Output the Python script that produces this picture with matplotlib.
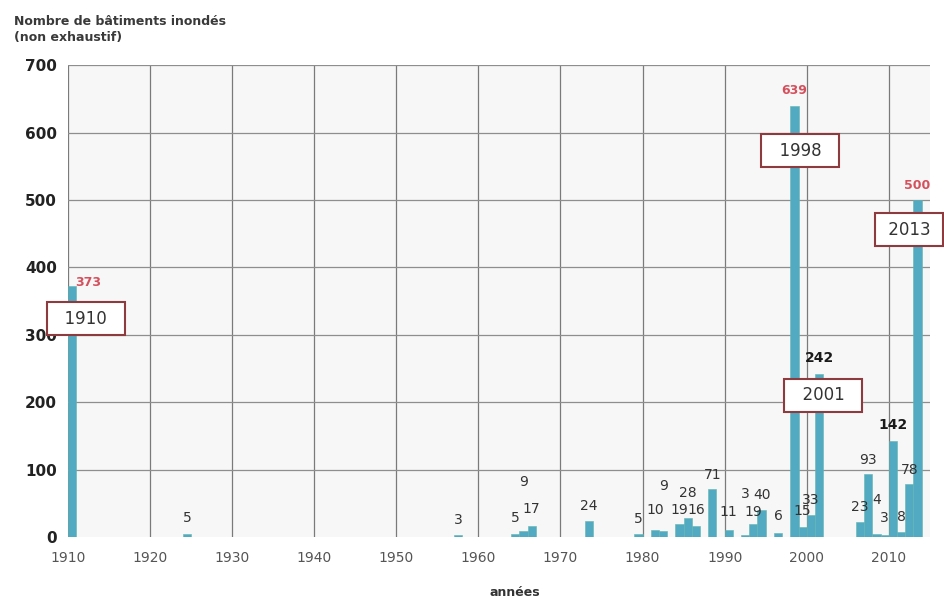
import matplotlib.pyplot as plt

# données
years = [1910, 1924, 1957, 1964, 1965, 1966, 1973, 1979, 1981, 1982, 1984,
         1985, 1986, 1988, 1990, 1992, 1993, 1994, 1996, 1998, 1999, 2000,
         2001, 2006, 2007, 2008, 2009, 2010, 2011, 2012, 2013]
values = [373, 5, 3, 5, 9, 17, 24, 5, 10, 9, 19,
          28, 16, 71, 11, 3, 19, 40, 6, 639, 15, 33,
          242, 23, 93, 4, 3, 142, 8, 78, 500]
# hauteur des étiquettes (unités de l'axe y)
label_y = [378, 28, 25, 28, 81, 41, 46, 27, 40, 76, 40,
           65, 40, 92, 37, 64, 37, 62, 31, 662, 38, 55,
           265, 44, 114, 55, 28, 166, 30, 99, 521]

big_years = [1910, 1998, 2013]
bold_years = [2001, 2010]

# encadrés
box_text = ['  1910  ', '  1998  ', ' 2013 ', '  2001  ']
box_x = [1912.2, 1999.2, 2012.5, 2002.0]
box_y = [324, 573, 456, 210]

fig = plt.figure(figsize=(9.44, 5.98), dpi=100)
ax = fig.add_axes([0.072, 0.102, 0.913, 0.789])
ax.set_facecolor('#f7f7f7')

ax.bar(years, values, width=1.0, align='edge', color='#52aac2',
       edgecolor='#62b4b0', linewidth=0.4, zorder=3)

for yr, v, ly in zip(years, values, label_y):
    if yr in big_years:
        if yr == 1910:
            ax.text(yr + 0.9, ly, str(v), ha='left', va='center', fontsize=9,
                    fontweight='bold', color='#d4505c', zorder=5)
        else:
            ax.text(yr + 0.5, ly, str(v), ha='center', va='center', fontsize=9,
                    fontweight='bold', color='#d4505c', zorder=5)
    elif yr in bold_years:
        ax.text(yr + 0.5, ly, str(v), ha='center', va='center', fontsize=10,
                fontweight='bold', color='#1a1a1a', zorder=5)
    else:
        ax.text(yr + 0.5, ly, str(v), ha='center', va='center', fontsize=10,
                color='#333333', zorder=5)

for t, bx, by in zip(box_text, box_x, box_y):
    ax.text(bx, by, t, ha='center', va='center', fontsize=12,
            color='#333333', zorder=6, clip_on=False,
            bbox=dict(boxstyle='square,pad=0.45', facecolor='white',
                      edgecolor='#8e3b3f', linewidth=1.5))

ax.set_xlim(1910, 2015)
ax.set_ylim(0, 700)
ax.set_xticks(range(1910, 2011, 10))
ax.set_yticks(range(0, 701, 100))
ax.tick_params(axis='x', length=0, pad=10, labelsize=10, labelcolor='#555555')
ax.tick_params(axis='y', length=0, pad=8, labelsize=11)
for lab in ax.get_yticklabels():
    lab.set_fontweight('bold')
    lab.set_color('#222222')

ax.grid(True, axis='x', color='#7a7a7a', linewidth=0.9, zorder=0)
ax.grid(True, axis='y', color='#8e8e8e', linewidth=0.9, zorder=0)
ax.yaxis.get_gridlines()[0].set_visible(False)
ax.set_axisbelow(True)
for s in ax.spines.values():
    s.set_visible(False)

fig.text(0.015, 0.975, 'Nombre de bâtiments inondés\n(non exhaustif)',
         ha='left', va='top', fontsize=9, fontweight='bold', color='#3a3a3a',
         linespacing=1.3)
fig.text(0.545, 0.01, 'années', ha='center', va='center', fontsize=9,
         fontweight='bold', color='#333333')

fig.savefig('out.png', dpi=100)
